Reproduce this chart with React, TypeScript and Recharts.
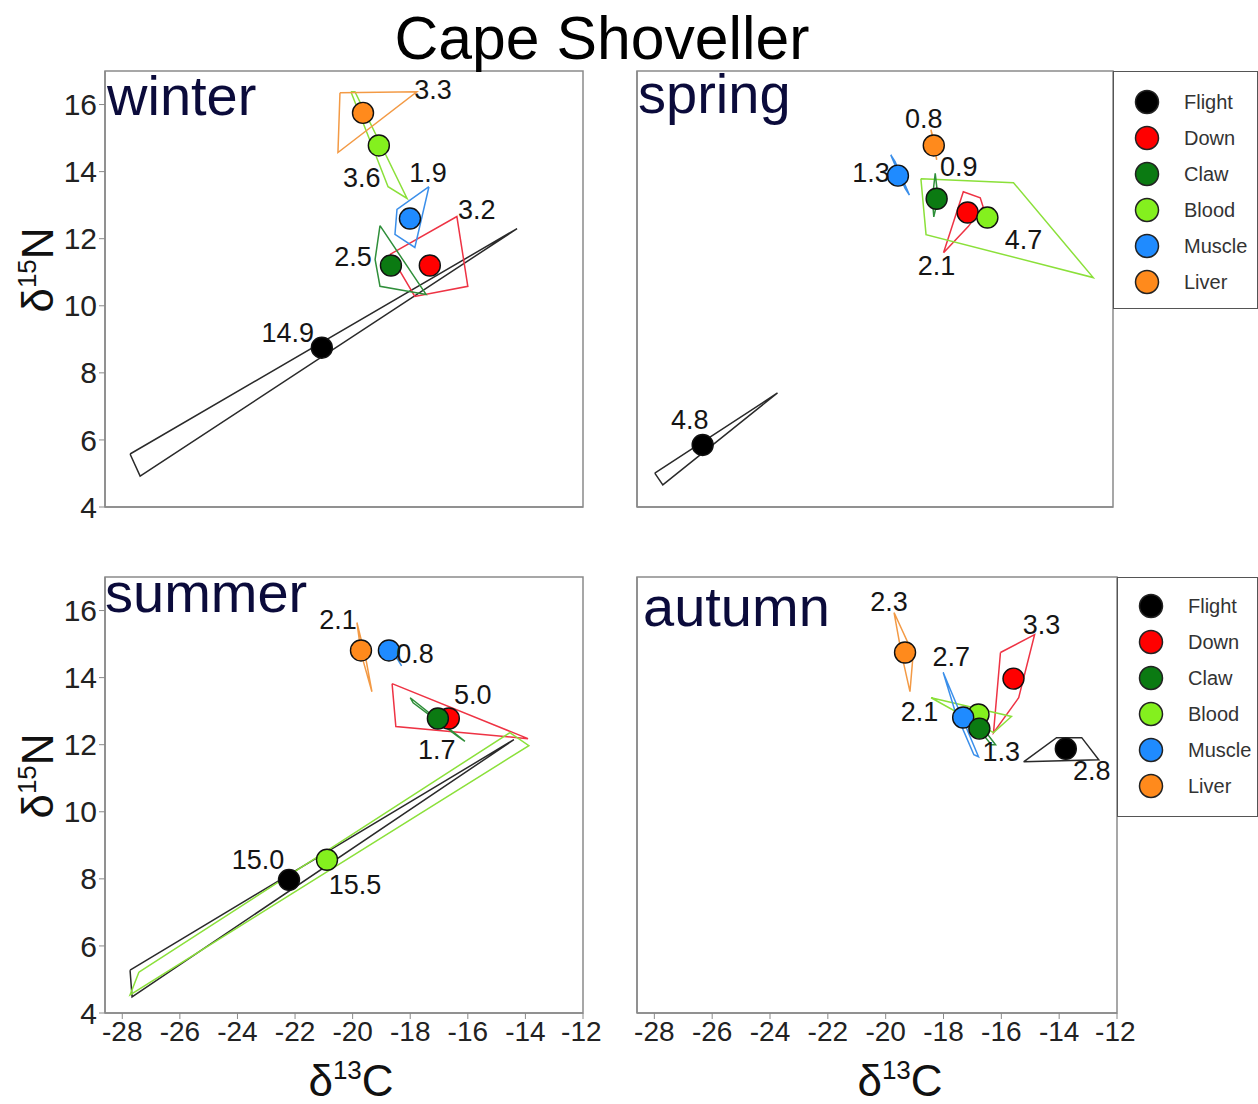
import React from "react";
import { ScatterChart, Scatter, XAxis, YAxis, ReferenceArea } from "recharts";

const tissues = ["Flight", "Down", "Claw", "Blood", "Muscle", "Liver"];
const fillColors = ["#000000", "#ff0000", "#0b7a12", "#84f01e", "#1f8bff", "#ff8a1c"];
const hullColors = ["#2a2a2a", "#ee3344", "#2f8f3a", "#8be03a", "#3b8fea", "#f39a45"];
// order the means are painted in (later ones sit on top)
const drawOrder = [0, 1, 3, 4, 2, 5];

const xTicks = [-28, -26, -24, -22, -20, -18, -16, -14, -12];
const yTicks = [4, 6, 8, 10, 12, 14, 16];
const xDomain = [-28.6, -12];
const yDomain = [4, 17];

// winter
const winterMeanX = [-21.07, -17.32, -18.67, -19.09, -18.01, -19.64];
const winterMeanY = [8.75, 11.2, 11.2, 14.78, 12.6, 15.75];
const winterAreas = ["14.9", "3.2", "2.5", "3.6", "1.9", "3.3"];
const winterHulls = [
  [[-27.73, 5.58], [-27.38, 4.92], [-14.29, 12.3]],
  [[-18.7, 11.53], [-16.38, 12.66], [-16.0, 10.58], [-17.84, 10.28]],
  [[-19.05, 12.39], [-19.22, 11.38], [-19.05, 10.58], [-17.45, 10.34]],
  [[-20.06, 16.38], [-19.92, 16.38], [-18.11, 13.2], [-18.77, 13.55]],
  [[-17.35, 13.55], [-18.46, 12.87], [-18.53, 12.13], [-17.84, 11.74]],
  [[-20.44, 16.35], [-17.77, 16.38], [-20.51, 14.57]],
];

// spring
const springMeanX = [-26.31, -17.07, -18.15, -16.38, -19.5, -18.25];
const springMeanY = [5.85, 12.78, 13.19, 12.63, 13.88, 14.78];
const springAreas = ["4.8", "2.1", "0.9", "4.7", "1.3", "0.8"];
const springHulls = [
  [[-27.98, 5.01], [-27.7, 4.66], [-23.7, 7.4]],
  [[-17.91, 11.58], [-17.22, 13.4], [-16.63, 13.22], [-16.53, 12.95], [-17.05, 12.36]],
  [[-18.2, 13.95], [-18.1, 13.2], [-18.25, 12.65], [-18.3, 13.2]],
  [[-18.7, 13.79], [-15.47, 13.67], [-12.69, 10.84], [-18.52, 12.12]],
  [[-19.75, 14.5], [-19.6, 14.3], [-19.1, 13.3], [-19.25, 13.5]],
  [[-18.35, 15.25], [-18.25, 14.8], [-18.15, 14.35], [-18.2, 14.8]],
];

// summer
const summerMeanX = [-22.21, -16.66, -17.04, -20.89, -18.74, -19.71];
const summerMeanY = [7.97, 12.78, 12.78, 8.57, 14.81, 14.81];
const summerAreas = ["15.0", "5.0", "1.7", "15.5", "0.8", "2.1"];
const summerHulls = [
  [[-27.73, 5.28], [-27.66, 4.48], [-14.4, 12.15]],
  [[-18.63, 13.82], [-18.5, 12.54], [-13.91, 12.18]],
  [[-18.0, 13.4], [-16.1, 12.1], [-16.35, 12.25], [-17.9, 13.25]],
  [[-27.42, 5.22], [-27.73, 4.54], [-13.88, 11.97], [-14.54, 12.36]],
  [[-18.65, 14.75], [-18.4, 14.5], [-18.3, 14.35], [-18.55, 14.7]],
  [[-19.85, 15.64], [-19.55, 14.6], [-19.33, 13.58], [-19.7, 14.7]],
];

// autumn
const autumnMeanX = [-13.77, -15.58, -16.76, -16.79, -17.32, -19.33];
const autumnMeanY = [11.88, 13.97, 12.48, 12.9, 12.81, 14.75];
const autumnAreas = ["2.8", "3.3", "1.3", "2.1", "2.7", "2.3"];
const autumnHulls = [
  [[-15.23, 11.49], [-14.09, 12.21], [-13.22, 12.21], [-12.63, 11.55]],
  [[-16.03, 14.75], [-14.85, 15.28], [-15.4, 13.4], [-16.27, 12.36]],
  [[-17.0, 12.9], [-16.2, 12.0], [-16.35, 12.0], [-16.9, 12.6]],
  [[-18.43, 13.4], [-15.65, 12.84], [-16.27, 12.36]],
  [[-18.01, 14.15], [-16.79, 11.64], [-16.95, 11.7], [-17.6, 13.0]],
  [[-19.71, 15.94], [-19.05, 14.7], [-19.16, 13.58], [-19.45, 14.7]],
];

// pixel offsets of the area labels from their mean point
const winterLabelOffsets = [[-34, -15], [47, -56], [-38, -9], [-17, 33], [18, -46], [70, -23]];
const springLabelOffsets = [[-13, -25], [-31, 53], [22, -32], [36, 22], [-27, -3], [-10, -26]];
const summerLabelOffsets = [[-31, -20], [24, -24], [-1, 31], [28, 25], [26, 4], [-23, -30]];
const autumnLabelOffsets = [[26, 22], [28, -54], [22, 23], [-59, -3], [-12, -61], [-16, -50]];

const FONT = "'Liberation Sans', Arial, sans-serif";
const AXIS = "#8a8a8a";

const noShape = () => <g />;

function meanShape(color: string, label: string, off: number[]) {
  return (props: any) => {
    const { cx, cy } = props;
    return (
      <g>
        <circle cx={cx} cy={cy} r={10.5} fill={color} stroke="#111" strokeWidth={1.4} />
        <text
          x={cx + off[0]}
          y={cy + off[1]}
          textAnchor="middle"
          dominantBaseline="central"
          fontFamily={FONT}
          fontSize={27}
          fill="#151515"
        >
          {label}
        </text>
      </g>
    );
  };
}

type PanelProps = {
  meanX: number[];
  meanY: number[];
  areas: string[];
  hulls: number[][][];
  offsets: number[][];
  left: number;
  top: number;
  width: number;
  showX: boolean;
  showY: boolean;
};

function Panel({ meanX, meanY, areas, hulls, offsets, left, top, width, showX, showY }: PanelProps) {
  const xTickStyle = { fontFamily: FONT, fontSize: 28, fill: "#222" };
  const yTickStyle = { fontFamily: FONT, fontSize: 30, fill: "#222" };
  return (
    <div style={{ position: "absolute", left, top }}>
      <ScatterChart width={width} height={490} margin={{ top: 11, right: 17, bottom: 3, left: 45 }}>
        <XAxis
          type="number"
          dataKey="x"
          domain={xDomain}
          ticks={xTicks}
          allowDataOverflow
          height={40}
          tickSize={6}
          tickMargin={2}
          tick={showX ? xTickStyle : false}
          axisLine={{ stroke: AXIS, strokeWidth: 1.5 }}
          tickLine={{ stroke: AXIS }}
        />
        <YAxis
          type="number"
          dataKey="y"
          domain={yDomain}
          ticks={yTicks}
          allowDataOverflow
          width={60}
          tickSize={6}
          tickMargin={2}
          tick={showY ? yTickStyle : false}
          axisLine={{ stroke: AXIS, strokeWidth: 1.5 }}
          tickLine={{ stroke: AXIS }}
        />
        <ReferenceArea
          x1={xDomain[0]}
          x2={xDomain[1]}
          y1={yDomain[0]}
          y2={yDomain[1]}
          fill="none"
          stroke={AXIS}
          strokeWidth={1.5}
          ifOverflow="visible"
        />
        {drawOrder.map((i) => {
          const pts = hulls[i].map((p) => ({ x: p[0], y: p[1] }));
          return (
            <Scatter
              key={"h" + i}
              data={[...pts, pts[0]]}
              line={{ stroke: hullColors[i], strokeWidth: 1.5 }}
              shape={noShape}
              isAnimationActive={false}
            />
          );
        })}
        {drawOrder.map((i) => (
          <Scatter
            key={"m" + i}
            name={tissues[i]}
            data={[{ x: meanX[i], y: meanY[i] }]}
            shape={meanShape(fillColors[i], areas[i], offsets[i])}
            isAnimationActive={false}
          />
        ))}
      </ScatterChart>
    </div>
  );
}

function LegendBox({ left, top, width, height, first }: { left: number; top: number; width: number; height: number; first: number }) {
  return (
    <div
      style={{
        position: "absolute",
        left,
        top,
        width,
        height,
        border: "1.5px solid #555",
        boxSizing: "border-box",
        background: "#fff",
      }}
    >
      <svg width={width} height={height}>
        {tissues.map((t, i) => (
          <g key={t}>
            <circle cx={33} cy={first + i * 36} r={11.5} fill={fillColors[i]} stroke="#222" strokeWidth={1.5} />
            <text x={70} y={first + i * 36} dominantBaseline="central" fontFamily={FONT} fontSize={20} fill="#333">
              {t}
            </text>
          </g>
        ))}
      </svg>
    </div>
  );
}

function YTitle({ x, y }: { x: number; y: number }) {
  return (
    <text x={x} y={y} transform={`rotate(-90 ${x} ${y})`} textAnchor="middle" fontFamily={FONT} fontSize={44} fill="#111">
      δ
      <tspan fontSize={26} dy={-17}>15</tspan>
      <tspan dy={17}>N</tspan>
    </text>
  );
}

function XTitle({ x, y }: { x: number; y: number }) {
  return (
    <text x={x} y={y} textAnchor="middle" fontFamily={FONT} fontSize={44} fill="#111">
      δ
      <tspan fontSize={26} dy={-17}>13</tspan>
      <tspan dy={17}>C</tspan>
    </text>
  );
}

export default function App() {
  const season = { fontFamily: FONT, fontSize: 56, fill: "#0b0b3b" };
  return (
    <div style={{ position: "absolute", left: 0, top: 0, width: 1258, height: 1104, background: "#fff", overflow: "hidden" }}>
      <style>{"svg.recharts-surface{overflow:visible}"}</style>
      <Panel meanX={winterMeanX} meanY={winterMeanY} areas={winterAreas} hulls={winterHulls} offsets={winterLabelOffsets}
        left={0} top={60} width={600} showX={false} showY={true} />
      <Panel meanX={springMeanX} meanY={springMeanY} areas={springAreas} hulls={springHulls} offsets={springLabelOffsets}
        left={532} top={60} width={598} showX={false} showY={false} />
      <Panel meanX={summerMeanX} meanY={summerMeanY} areas={summerAreas} hulls={summerHulls} offsets={summerLabelOffsets}
        left={0} top={566} width={600} showX={true} showY={true} />
      <Panel meanX={autumnMeanX} meanY={autumnMeanY} areas={autumnAreas} hulls={autumnHulls} offsets={autumnLabelOffsets}
        left={532} top={566} width={602} showX={true} showY={false} />
      <LegendBox left={1113} top={71} width={145} height={238} first={30} />
      <LegendBox left={1117} top={577} width={141} height={240} first={28} />
      <svg width={1258} height={1104} style={{ position: "absolute", left: 0, top: 0, pointerEvents: "none" }}>
        <text x={602} y={59} textAnchor="middle" fontFamily={FONT} fontSize={62} fill="#000" textLength={415} lengthAdjust="spacingAndGlyphs">
          Cape Shoveller
        </text>
        <text x={107} y={115} {...season}>winter</text>
        <text x={638} y={113} {...season}>spring</text>
        <text x={105} y={612} {...season}>summer</text>
        <text x={643} y={626} {...season}>autumn</text>
        <YTitle x={53} y={270} />
        <YTitle x={53} y={776} />
        <XTitle x={351} y={1096} />
        <XTitle x={900} y={1096} />
      </svg>
    </div>
  );
}
